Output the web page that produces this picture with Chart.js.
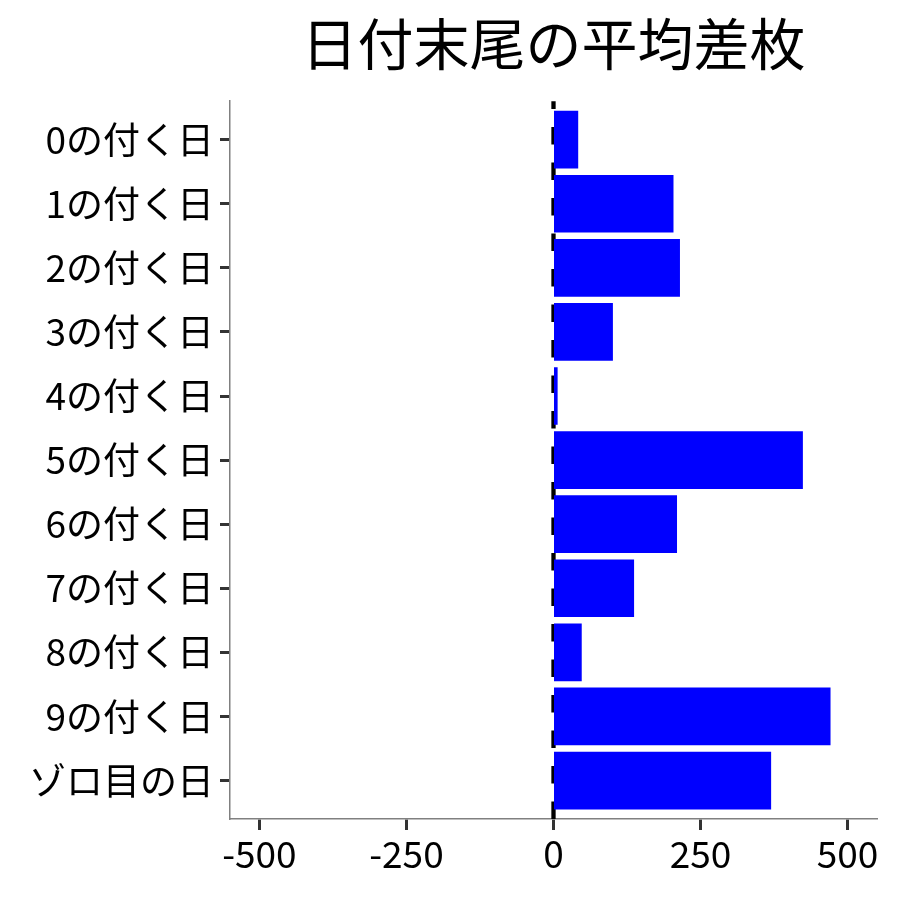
<!DOCTYPE html>
<html>
<head>
<meta charset="utf-8">
<script src="https://cdn.jsdelivr.net/npm/chart.js@4"></script>
<style>
  html, body { margin: 0; padding: 0; background: #ffffff; }
  #wrap { width: 900px; height: 900px; }
</style>
</head>
<body>
<div id="wrap"><canvas id="c" width="900" height="900"></canvas></div>
<script>
const chartTitle = "日付末尾の平均差枚";
const categories = ["0の付く日", "1の付く日", "2の付く日", "3の付く日", "4の付く日",
                    "5の付く日", "6の付く日", "7の付く日", "8の付く日", "9の付く日", "ゾロ目の日"];
const avgDiff = [42, 204, 215, 101, 7, 424, 210, 137, 48, 471, 370];
const xTicks = [-500, -250, 0, 250, 500];

const FONT = "'Noto Sans CJK JP', 'Noto Sans', sans-serif";

const zeroLine = {
  id: 'zeroLine',
  beforeDatasetsDraw(chart) {
    const xs = chart.scales.x;
    const area = chart.chartArea;
    const px = xs.getPixelForValue(0);
    const ctx = chart.ctx;
    ctx.save();
    ctx.strokeStyle = '#000000';
    ctx.lineWidth = 4.3;
    ctx.setLineDash([17.5, 18]);
    ctx.beginPath();
    ctx.moveTo(px, area.bottom);
    ctx.lineTo(px, area.top);
    ctx.stroke();
    ctx.restore();
  }
};

new Chart(document.getElementById('c'), {
  type: 'bar',
  data: {
    datasets: [{
      data: avgDiff.map((v, i) => ({ x: v, y: i })),
      backgroundColor: '#0000ff',
      borderWidth: 0,
      barPercentage: 0.9,
      categoryPercentage: 1.0
    }]
  },
  options: {
    indexAxis: 'y',
    responsive: false,
    animation: false,
    layout: { padding: { left: 0, right: 23, top: 0, bottom: 0 } },
    plugins: {
      legend: { display: false },
      tooltip: { enabled: false },
      title: {
        display: true,
        fullSize: false,
        text: chartTitle,
        color: '#000000',
        font: { family: FONT, size: 56, weight: 'normal' },
        padding: { top: 10, bottom: 24 }
      }
    },
    scales: {
      y: {
        type: 'linear',
        reverse: true,
        offset: false,
        min: -0.6,
        max: 10.6,
        afterBuildTicks: (s) => { s.ticks = categories.map((_, i) => ({ value: i })); },
        afterFit: (s) => { s.width = 230; },
        ticks: {
          callback: (v) => categories[v],
          color: '#000000',
          font: { family: FONT, size: 37 },
          padding: 6,
          autoSkip: false
        },
        grid: {
          offset: false,
          drawOnChartArea: false,
          tickLength: 10,
          tickColor: '#333333',
          tickWidth: 3
        },
        border: { color: '#808080', width: 1.5 }
      },
      x: {
        type: 'linear',
        min: -550,
        max: 550,
        afterBuildTicks: (s) => { s.ticks = xTicks.map(v => ({ value: v })); },
        afterFit: (s) => { s.height = 81; },
        ticks: {
          color: '#000000',
          font: { family: FONT, size: 37 },
          padding: 2,
          maxRotation: 0
        },
        grid: {
          drawOnChartArea: false,
          tickLength: 11,
          tickColor: '#333333',
          tickWidth: 3
        },
        border: { color: '#808080', width: 1.5 }
      }
    }
  },
  plugins: [zeroLine]
});
</script>
</body>
</html>
